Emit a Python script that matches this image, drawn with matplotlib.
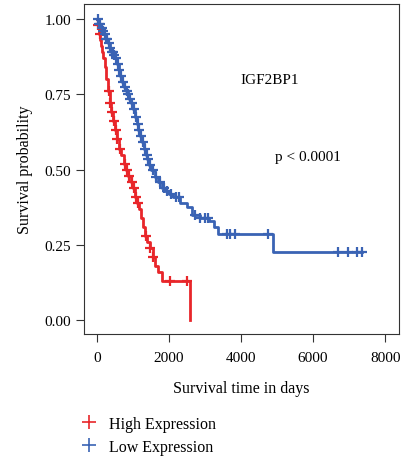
import matplotlib.pyplot as plt
from matplotlib.lines import Line2D

plt.rcParams['font.family'] = ['Liberation Serif', 'DejaVu Serif']

# Kaplan-Meier step data
high_t = [0, 30, 60, 90, 120, 150, 180, 210, 250, 300, 350, 400, 450, 500, 560, 620,
          680, 740, 800, 870, 940, 1000, 1060, 1120, 1180, 1230, 1290, 1340, 1400,
          1470, 1550, 1620, 1700, 1800, 2580]
high_s = [1.0, 0.98, 0.95, 0.93, 0.91, 0.89, 0.87, 0.84, 0.80, 0.76, 0.72, 0.69, 0.66,
          0.63, 0.60, 0.57, 0.55, 0.52, 0.50, 0.48, 0.46, 0.44, 0.41, 0.39, 0.37, 0.34,
          0.31, 0.28, 0.26, 0.24, 0.21, 0.18, 0.16, 0.13, 0.0]
high_cens_t = [40, 70, 320, 370, 420, 470, 520, 560, 640, 780, 830, 880, 960, 1020,
               1070, 1140, 1360, 1480, 1560, 2030, 2500]

low_t = [0, 50, 100, 150, 200, 250, 300, 350, 400, 450, 500, 550, 600, 650, 700, 750,
         800, 850, 900, 950, 1000, 1050, 1100, 1150, 1200, 1250, 1300, 1350, 1400,
         1450, 1500, 1600, 1700, 1800, 1900, 2000, 2100, 2300, 2500, 2650, 2850, 3100,
         3250, 3350, 4900]
low_s = [1.0, 0.985, 0.97, 0.96, 0.95, 0.935, 0.92, 0.905, 0.89, 0.88, 0.87, 0.85,
         0.83, 0.81, 0.79, 0.775, 0.76, 0.75, 0.735, 0.72, 0.70, 0.675, 0.65, 0.63,
         0.61, 0.59, 0.57, 0.55, 0.535, 0.515, 0.50, 0.475, 0.46, 0.44, 0.43, 0.42,
         0.41, 0.39, 0.375, 0.35, 0.34, 0.33, 0.31, 0.285, 0.226]
low_end = 7350
low_cens_t = [20, 60, 90, 130, 170, 220, 260, 290, 330, 370, 410, 440, 480, 520, 570,
              620, 660, 720, 770, 820, 870, 920, 970, 1030, 1080, 1130, 1170, 1220,
              1280, 1330, 1380, 1430, 1480, 1550, 1650, 1750, 1850, 1950, 2050, 2200,
              2280, 2720, 2860, 3000, 3080, 3610, 3690, 3830, 4750, 6690, 6970, 7220,
              7350]


def surv_at(times, surv, t):
    s = surv[0]
    for ti, si in zip(times, surv):
        if ti <= t:
            s = si
    return s


red = '#e8262a'
blue = '#3a63b4'

fig = plt.figure(figsize=(4.02, 4.60), dpi=100)
ax = fig.add_axes([0.209, 0.272, 0.784, 0.717])

ax.step(high_t, high_s, where='post', color=red, lw=2)
ax.step(low_t + [low_end], low_s + [low_s[-1]], where='post', color=blue, lw=2)

ax.plot(high_cens_t, [surv_at(high_t, high_s, t) for t in high_cens_t], '+',
        color=red, ms=6.5, mew=1.6)
ax.plot(low_cens_t, [surv_at(low_t, low_s, t) for t in low_cens_t], '+',
        color=blue, ms=6.5, mew=1.6)

ax.text(4800, 0.80, 'IGF2BP1', fontsize=11, ha='center', va='center')
ax.text(5850, 0.545, 'p < 0.0001', fontsize=11, ha='center', va='center')

ax.set_xlim(-360, 8390)
ax.set_ylim(-0.046, 1.05)
ax.set_xticks([0, 2000, 4000, 6000, 8000])
ax.set_yticks([0, 0.25, 0.5, 0.75, 1.0])
ax.set_yticklabels(['0.00', '0.25', '0.50', '0.75', '1.00'])
ax.tick_params(labelsize=11, length=6, color='#333333')
ax.tick_params(axis='x', pad=6)
for sp in ax.spines.values():
    sp.set_color('#333333')
ax.set_xlabel('Survival time in days', fontsize=11.5, labelpad=12)
ax.set_ylabel('Survival probability', fontsize=11.5, labelpad=8)

handles = [Line2D([], [], ls='none', marker='+', color=red, ms=10, mew=1.2),
           Line2D([], [], ls='none', marker='+', color=blue, ms=10, mew=1.2)]
fig.legend(handles, ['High Expression', 'Low Expression'], loc='upper left',
           bbox_to_anchor=(0.165, 0.125), frameon=False, fontsize=11.5,
           handlelength=1.0, handletextpad=0.8, labelspacing=0.45)

fig.savefig('out.png', dpi=100)
